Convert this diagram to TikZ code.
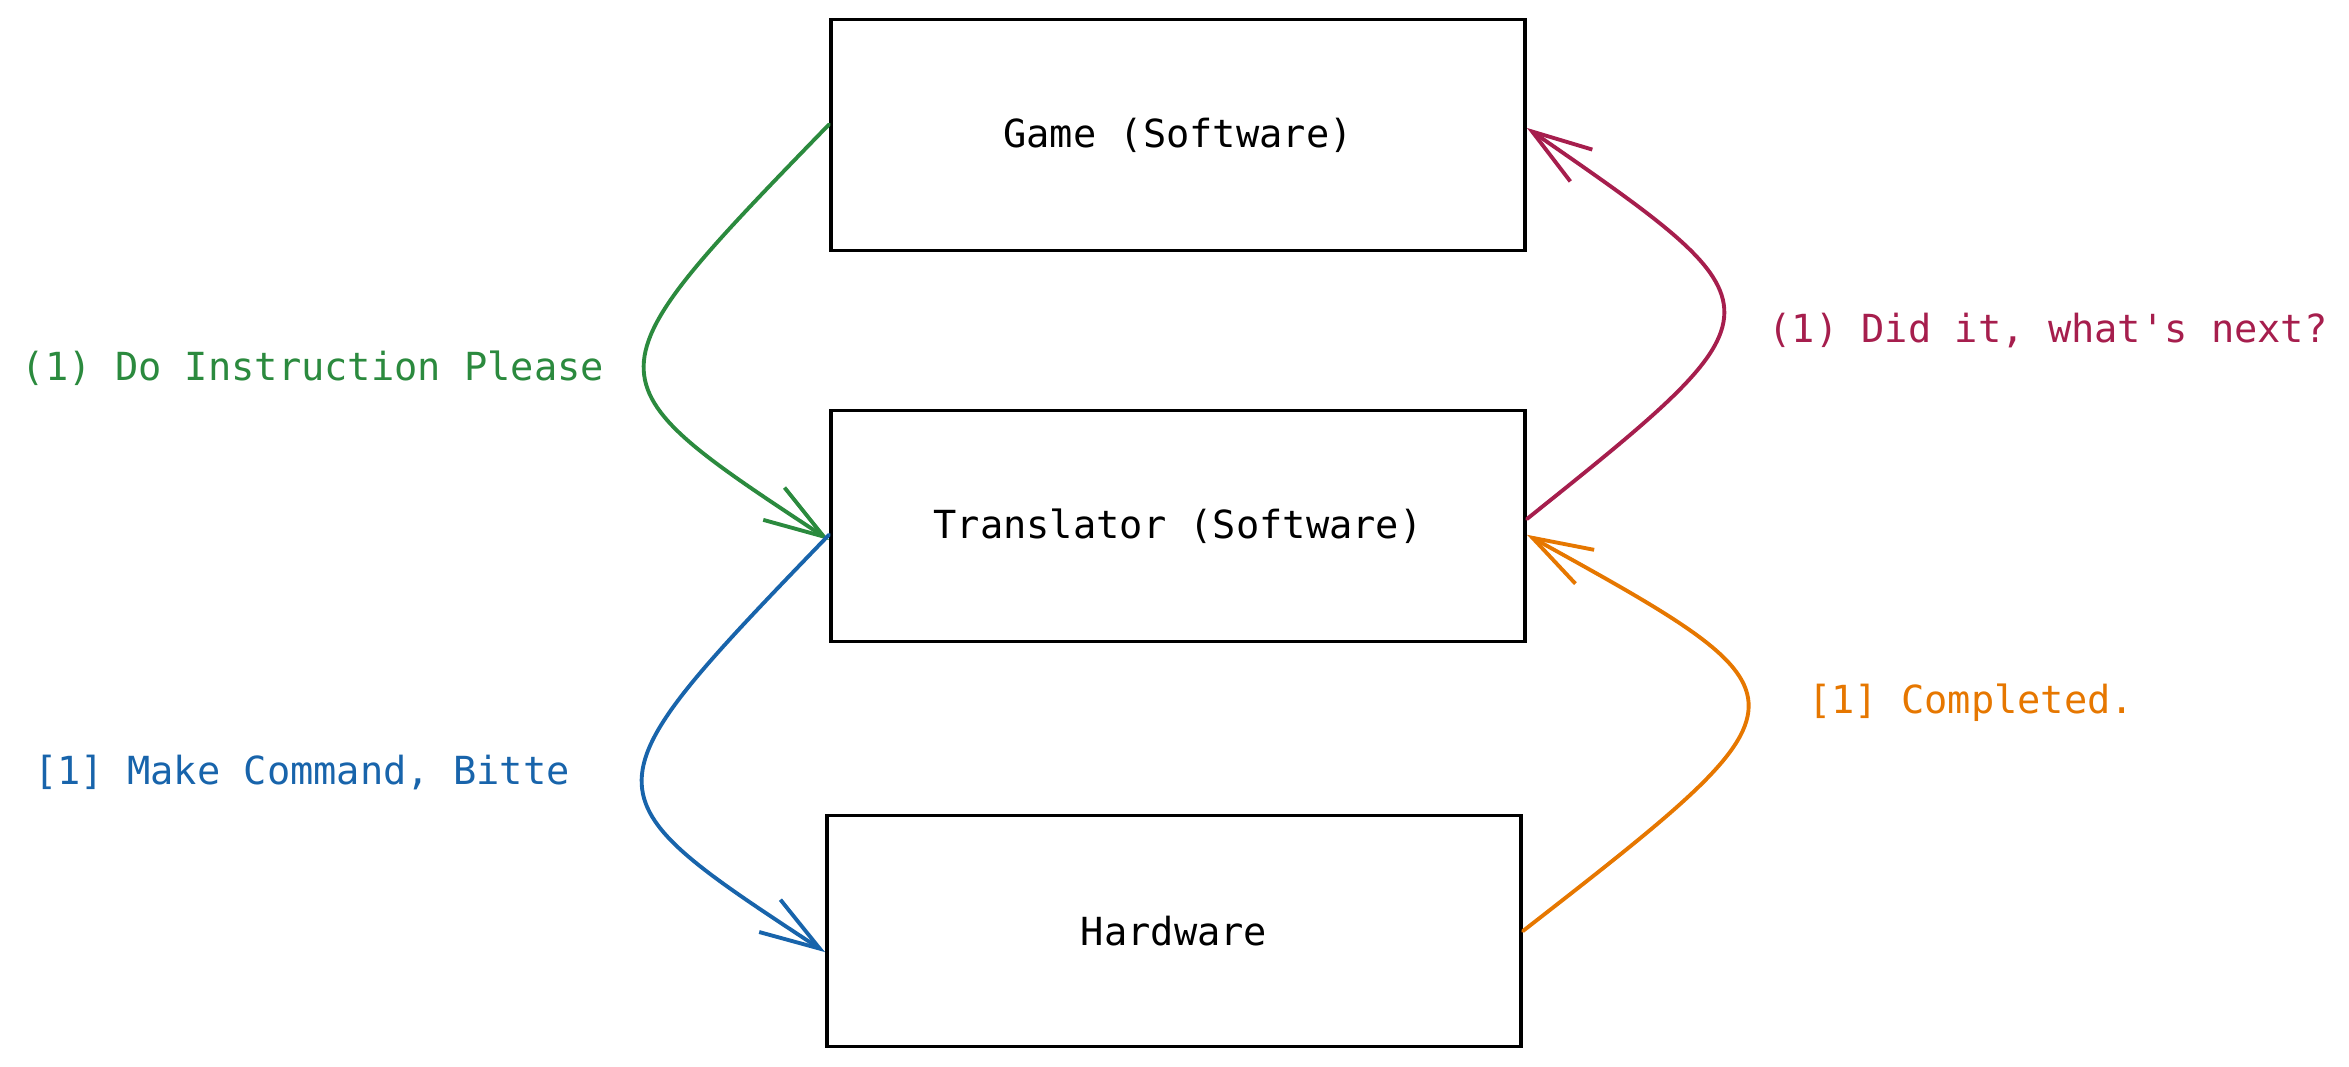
\documentclass[tikz,border=0pt]{standalone}
\usepackage{fontspec}
\setmonofont{DejaVu Sans Mono}
\usetikzlibrary{arrows.meta}
\definecolor{askgreen}{HTML}{2B8A3E}
\definecolor{donered}{HTML}{A61E4D}
\definecolor{cmdblue}{HTML}{1864AB}
\definecolor{okorange}{HTML}{E67700}

\begin{document}
\begin{tikzpicture}[x=.01cm, y=.01cm,
  box/.style={draw, line width=1pt, minimum width=6.94cm, minimum height=2.31cm, font=\ttfamily\fontsize{11}{13}\selectfont},
  msg/.style={font=\ttfamily\fontsize{11}{13}\selectfont},
  flow/.style={line width=1.1pt, line cap=round, -{Straight Barb[length=17pt,width=11pt]}}]
\useasboundingbox (0,0) rectangle (2349,1067);
% the three layers
\node[box] (game) at (1178,932) {Game (Software)};
\node[box] (trans) at (1178,541) {Translator (Software)};
\node[box] (hard) at (1174,136) {Hardware};
% messages
\node[msg, text=askgreen] (ask) at (313,699) {(1) Do Instruction Please};
\node[msg, text=donered] (done) at (2048,736) {(1) Did it, what's next?};
\node[msg, text=cmdblue] (cmd) at (302,294) {[1] Make Command, Bitte};
\node[msg, text=okorange] (ok) at (1971,364) {[1] Completed.};
\coordinate (askctl) at (583,689);
\coordinate (cmdctl) at (581,275);
\coordinate (donectl) at (1789,758);
\coordinate (okctl) at (1822,369);
% arrows
\draw[flow, askgreen] ([yshift=3pt]game.west) .. controls (askctl) .. ([yshift=-4pt]trans.west);
\draw[flow, cmdblue] ([yshift=-2.5pt]trans.west) .. controls (cmdctl) .. ([yshift=-6pt]hard.west);
\draw[flow, donered] ([yshift=2pt]trans.east) .. controls (donectl) .. ([yshift=2pt]game.east);
\draw[flow, okorange] (hard.east) .. controls (okctl) .. ([yshift=-2.5pt]trans.east);
\end{tikzpicture}
\end{document}
